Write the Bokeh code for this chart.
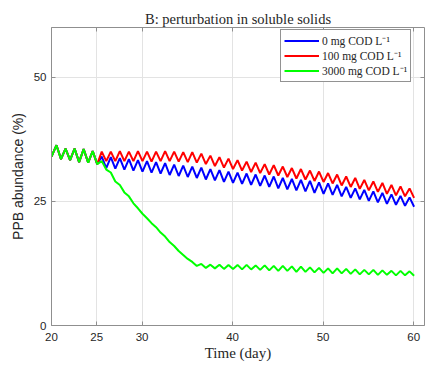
from bokeh.plotting import figure
from bokeh.models import Range1d, FixedTicker, LinearAxis, Legend, LegendItem, Grid
from bokeh.embed import file_html
from bokeh.resources import INLINE

# ---- data ----
x_ticks = [20, 25, 30, 40, 50, 60]
y_ticks = [0, 25, 50]
series_labels = ["0 mg COD L\u207b\u00b9", "100 mg COD L\u207b\u00b9", "3000 mg COD L\u207b\u00b9"]

# sampling times: start, then daily peak (x.55) and trough (x+1.05)
time_day = [20.0] + [v for d in range(20, 60) for v in (d + 0.55, d + 1.05)]

# common part before the perturbation (day 20 .. 25)
pre_values = [34.0, 36.3, 33.5, 35.6, 33.3, 35.6, 32.9, 35.5, 32.8, 35.1, 32.5]

blue_post = [34.0, 31.7, 33.9, 31.6, 33.7, 31.4, 33.5, 31.2, 33.3, 31.0, 33.1, 30.8,
             32.9, 30.6, 32.7, 30.3, 32.4, 30.1, 32.2, 29.9, 32.0, 29.7, 31.8, 29.4,
             31.5, 29.2, 31.3, 28.9, 31.0, 28.7, 30.8, 28.5, 30.6, 28.3, 30.4, 28.1,
             30.2, 27.9, 30.0, 27.6, 29.7, 27.4, 29.5, 27.2, 29.3, 27.0, 29.1, 26.7,
             28.8, 26.5, 28.6, 26.3, 28.3, 26.0, 27.9, 25.7, 27.6, 25.4, 27.3, 25.1,
             27.0, 24.8, 26.7, 24.5, 26.4, 24.3, 26.1, 24.1, 25.8, 23.9]

red_post = [35.0, 33.1, 35.0, 33.1, 35.1, 33.1, 35.0, 33.1, 35.1, 33.1, 35.0, 33.0,
            35.0, 33.1, 35.1, 33.1, 35.0, 33.0, 34.9, 32.9, 34.9, 32.8, 34.6, 32.5,
            34.2, 32.1, 33.9, 31.8, 33.6, 31.5, 33.3, 31.2, 33.0, 30.9, 32.8, 30.7,
            32.5, 30.4, 32.3, 30.2, 32.0, 29.9, 31.7, 29.6, 31.5, 29.4, 31.2, 29.1,
            31.0, 28.9, 30.7, 28.6, 30.4, 28.2, 30.0, 27.9, 29.7, 27.5, 29.3, 27.2,
            29.0, 26.9, 28.7, 26.5, 28.3, 26.2, 28.0, 26.0, 27.6, 25.7]

green_post = [33.1, 31.4, 30.8, 29.0, 28.3, 26.8, 26.0, 24.6, 23.6, 22.5, 21.6, 20.6,
              19.8, 18.7, 17.9, 16.8, 16.0, 15.0, 14.2, 13.4, 12.8, 12.0, 12.4, 11.6,
              12.25, 11.5, 12.25, 11.4, 12.2, 11.4, 12.2, 11.3, 12.2, 11.3, 12.1, 11.2,
              12.1, 11.1, 12.0, 11.0, 12.0, 11.0, 11.9, 10.8, 11.85, 10.8, 11.7, 10.7,
              11.6, 10.6, 11.5, 10.5, 11.5, 10.5, 11.4, 10.4, 11.3, 10.3, 11.2, 10.3,
              11.2, 10.2, 11.1, 10.2, 11.0, 10.1, 11.0, 10.1, 10.9, 10.0]

blue_vals = pre_values + blue_post
red_vals = pre_values + red_post
green_vals = pre_values + green_post

SERIF = "Liberation Serif"
SANS = "Liberation Sans"
AXIS_COL = "#8f8f8f"
TXT_COL = "#262626"

p = figure(width=425, height=367, output_backend="svg", toolbar_location=None,
           x_range=Range1d(20, 61.2), y_range=Range1d(0, 60),
           x_axis_type=None, y_axis_type=None,
           min_border_left=51, min_border_right=1, min_border_top=27, min_border_bottom=42)
p.outline_line_color = None
p.background_fill_color = "white"

p.title.text = "B: perturbation in soluble solids"
p.title.align = "center"
p.title.text_font = SERIF
p.title.text_font_size = "14.5px"
p.title.text_font_style = "normal"
p.title.text_color = TXT_COL
p.title.standoff = 2


def style_axis(ax):
    ax.axis_line_color = AXIS_COL
    ax.axis_line_width = 1
    ax.major_tick_line_color = AXIS_COL
    ax.major_tick_in = 4
    ax.major_tick_out = 0
    ax.minor_tick_line_color = None
    ax.major_label_text_color = TXT_COL
    ax.major_label_text_font = SANS
    ax.major_label_text_font_size = "11.5px"


def blank_axis(ticks):
    ax = LinearAxis(ticker=FixedTicker(ticks=ticks))
    style_axis(ax)
    ax.major_label_overrides = {t: "" for t in ticks}
    ax.major_label_standoff = 0
    return ax


xb = LinearAxis(ticker=FixedTicker(ticks=x_ticks))
style_axis(xb)
xb.major_label_standoff = 7
xb.axis_label = "Time (day)"
xb.axis_label_text_font = SERIF
xb.axis_label_text_font_size = "15px"
xb.axis_label_text_font_style = "normal"
xb.axis_label_text_color = TXT_COL
xb.axis_label_standoff = 1
p.add_layout(xb, "below")

p.add_layout(blank_axis(x_ticks), "above")
p.add_layout(blank_axis(y_ticks), "right")

yl = LinearAxis(ticker=FixedTicker(ticks=y_ticks))
style_axis(yl)
yl.major_label_standoff = 5
yl.axis_label = "PPB abundance (%)"
yl.axis_label_text_font = SANS
yl.axis_label_text_font_size = "14px"
yl.axis_label_text_font_style = "normal"
yl.axis_label_text_color = TXT_COL
yl.axis_label_standoff = 5
p.add_layout(yl, "left")

p.add_layout(Grid(dimension=0, ticker=FixedTicker(ticks=x_ticks), grid_line_color="#e3e3e3"))
p.add_layout(Grid(dimension=1, ticker=FixedTicker(ticks=y_ticks), grid_line_color="#e3e3e3"))

rb = p.line(time_day, blue_vals, line_color="#0000ff", line_width=2)
rr = p.line(time_day, red_vals, line_color="#ff0000", line_width=2)
rg = p.line(time_day, green_vals, line_color="#00ff00", line_width=2)

legend = Legend(items=[LegendItem(label=series_labels[0], renderers=[rb]),
                       LegendItem(label=series_labels[1], renderers=[rr]),
                       LegendItem(label=series_labels[2], renderers=[rg])],
                location=(229, 243))
legend.label_text_font = SERIF
legend.label_text_font_size = "11.5px"
legend.label_text_color = TXT_COL
legend.glyph_width = 35
legend.glyph_height = 11
legend.label_height = 11
legend.label_standoff = 3
legend.padding = 3
legend.spacing = 0
legend.margin = 0
legend.border_line_color = TXT_COL
legend.border_line_width = 1
legend.background_fill_alpha = 1
p.add_layout(legend)

open("out.html", "w").write(file_html(p, INLINE))
